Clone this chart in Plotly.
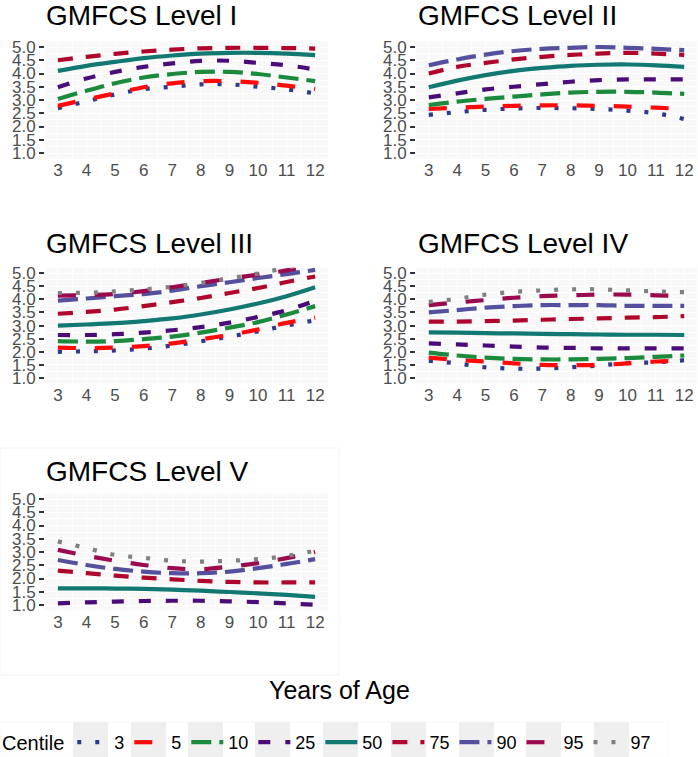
import plotly.graph_objects as go

W, H = 698, 757

ages = [3, 4, 5, 6, 7, 8, 9, 10, 11, 12]
centiles = ["3", "5", "10", "25", "50", "75", "90", "95", "97"]
level_titles = ["GMFCS Level I", "GMFCS Level II", "GMFCS Level III", "GMFCS Level IV", "GMFCS Level V"]
y_tick_vals = [1.0, 1.5, 2.0, 2.5, 3.0, 3.5, 4.0, 4.5, 5.0]
y_tick_text = ["1.0", "1.5", "2.0", "2.5", "3.0", "3.5", "4.0", "4.5", "5.0"]

# Level I
lvl1_c3 = [2.69, 2.95, 3.21, 3.41, 3.50, 3.59, 3.59, 3.50, 3.40, 3.25]
lvl1_c5 = [2.78, 3.02, 3.25, 3.48, 3.63, 3.71, 3.71, 3.65, 3.54, 3.42]
lvl1_c10 = [3.04, 3.35, 3.63, 3.85, 3.98, 4.06, 4.06, 3.98, 3.85, 3.71]
lvl1_c25 = [3.48, 3.81, 4.06, 4.25, 4.38, 4.48, 4.48, 4.40, 4.31, 4.15]
lvl1_c50 = [4.10, 4.29, 4.44, 4.58, 4.68, 4.75, 4.78, 4.78, 4.75, 4.69]
lvl1_c75 = [4.50, 4.63, 4.74, 4.83, 4.90, 4.95, 4.97, 4.97, 4.96, 4.94]
lvl1_c90 = [None] * 10
lvl1_c95 = [None] * 10
lvl1_c97 = [None] * 10

# Level II
lvl2_c3 = [2.44, 2.54, 2.63, 2.68, 2.70, 2.69, 2.66, 2.60, 2.50, 2.28]
lvl2_c5 = [2.66, 2.71, 2.75, 2.78, 2.80, 2.80, 2.78, 2.75, 2.71, 2.66]
lvl2_c10 = [2.81, 2.94, 3.04, 3.13, 3.21, 3.28, 3.31, 3.31, 3.28, 3.23]
lvl2_c25 = [3.10, 3.25, 3.40, 3.50, 3.60, 3.69, 3.75, 3.78, 3.78, 3.78]
lvl2_c50 = [3.48, 3.73, 3.94, 4.10, 4.21, 4.29, 4.33, 4.34, 4.31, 4.25]
lvl2_c75 = [4.00, 4.25, 4.40, 4.53, 4.63, 4.70, 4.75, 4.78, 4.75, 4.70]
lvl2_c90 = [4.31, 4.53, 4.71, 4.85, 4.93, 4.97, 5.00, 4.97, 4.93, 4.88]
lvl2_c95 = [None] * 10
lvl2_c97 = [None] * 10

# Level III
lvl3_c3 = [2.00, 2.02, 2.05, 2.12, 2.24, 2.40, 2.58, 2.78, 3.00, 3.20]
lvl3_c5 = [2.16, 2.14, 2.16, 2.22, 2.32, 2.48, 2.64, 2.85, 3.10, 3.30]
lvl3_c10 = [2.41, 2.39, 2.41, 2.48, 2.58, 2.73, 2.92, 3.13, 3.42, 3.74]
lvl3_c25 = [2.64, 2.64, 2.67, 2.73, 2.82, 2.94, 3.11, 3.33, 3.58, 3.95]
lvl3_c50 = [3.00, 3.04, 3.09, 3.17, 3.27, 3.42, 3.61, 3.84, 4.12, 4.46]
lvl3_c75 = [3.45, 3.52, 3.61, 3.74, 3.89, 4.05, 4.24, 4.43, 4.66, 4.87]
lvl3_c90 = [3.95, 4.03, 4.12, 4.20, 4.33, 4.50, 4.65, 4.81, 4.96, 5.12]
lvl3_c95 = [4.14, 4.16, 4.20, 4.31, 4.46, 4.62, 4.79, 4.94, 5.10, 5.30]
lvl3_c97 = [4.24, 4.25, 4.30, 4.38, 4.48, 4.62, 4.80, 4.98, 5.20, 5.40]

# Level IV
lvl4_c3 = [1.66, 1.56, 1.41, 1.36, 1.36, 1.41, 1.48, 1.57, 1.60, 1.68]
lvl4_c5 = [1.78, 1.69, 1.63, 1.56, 1.50, 1.49, 1.50, 1.56, 1.63, 1.66]
lvl4_c10 = [1.97, 1.86, 1.78, 1.73, 1.71, 1.71, 1.73, 1.76, 1.81, 1.86]
lvl4_c25 = [2.32, 2.28, 2.24, 2.20, 2.16, 2.15, 2.13, 2.13, 2.13, 2.13]
lvl4_c50 = [2.74, 2.73, 2.71, 2.70, 2.68, 2.67, 2.66, 2.65, 2.65, 2.64]
lvl4_c75 = [3.15, 3.15, 3.17, 3.19, 3.22, 3.25, 3.27, 3.30, 3.32, 3.36]
lvl4_c90 = [3.50, 3.59, 3.68, 3.74, 3.78, 3.78, 3.78, 3.75, 3.75, 3.75]
lvl4_c95 = [3.78, 3.88, 3.97, 4.06, 4.12, 4.15, 4.18, 4.18, 4.15, 4.13]
lvl4_c97 = [3.90, 4.02, 4.18, 4.28, 4.34, 4.38, 4.38, 4.34, 4.30, 4.27]

# Level V
lvl5_c3 = [None] * 10
lvl5_c5 = [None] * 10
lvl5_c10 = [None] * 10
lvl5_c25 = [1.06, 1.10, 1.13, 1.15, 1.16, 1.16, 1.14, 1.11, 1.06, 1.01]
lvl5_c50 = [1.63, 1.63, 1.62, 1.61, 1.58, 1.54, 1.49, 1.44, 1.38, 1.31]
lvl5_c75 = [2.30, 2.20, 2.11, 2.03, 1.97, 1.91, 1.87, 1.85, 1.85, 1.85]
lvl5_c90 = [2.70, 2.51, 2.36, 2.26, 2.20, 2.20, 2.26, 2.39, 2.55, 2.73]
lvl5_c95 = [3.08, 2.86, 2.67, 2.51, 2.39, 2.35, 2.45, 2.58, 2.77, 3.00]
lvl5_c97 = [3.40, 3.15, 2.89, 2.78, 2.67, 2.64, 2.67, 2.73, 2.85, 3.05]

levels = [
    [lvl1_c3, lvl1_c5, lvl1_c10, lvl1_c25, lvl1_c50, lvl1_c75, lvl1_c90, lvl1_c95, lvl1_c97],
    [lvl2_c3, lvl2_c5, lvl2_c10, lvl2_c25, lvl2_c50, lvl2_c75, lvl2_c90, lvl2_c95, lvl2_c97],
    [lvl3_c3, lvl3_c5, lvl3_c10, lvl3_c25, lvl3_c50, lvl3_c75, lvl3_c90, lvl3_c95, lvl3_c97],
    [lvl4_c3, lvl4_c5, lvl4_c10, lvl4_c25, lvl4_c50, lvl4_c75, lvl4_c90, lvl4_c95, lvl4_c97],
    [lvl5_c3, lvl5_c5, lvl5_c10, lvl5_c25, lvl5_c50, lvl5_c75, lvl5_c90, lvl5_c95, lvl5_c97],
]

colors = ["#2e3a8c", "#ff0a0a", "#1b8a3c", "#4b0c7a", "#127872",
          "#b1062c", "#55509e", "#9b0a4e", "#808080"]
dashes = ["4px,14px", "18px,19px", "20px,8px", "12px,15px", "solid",
          "15px,13px", "20px,8px", "18px,19px", "4px,14px"]

# panel geometry in pixels: (x0, x1, ytop, ybottom)
panels = [
    (45, 328, 41.7, 158.3),
    (416, 697, 41.7, 158.3),
    (45, 328, 267.8, 383.3),
    (416, 697, 267.8, 383.3),
    (45, 328, 493.7, 610.3),
]
title_pos = [(44, 16), (416, 16), (44, 244), (416, 244), (44, 471)]
# legend key background boxes (pixels): x0 positions, width
key_x0 = [73, 131, 188, 255, 323, 391, 459, 526, 594]
key_w = 35

FONT = "Liberation Sans, Arial, sans-serif"

fig = go.Figure()

for ci, cname in enumerate(centiles):
    shown = False
    for pi in range(5):
        vals = levels[pi][ci]
        if all(v is None for v in vals):
            continue
        suffix = "" if pi == 0 else str(pi + 1)
        fig.add_trace(go.Scatter(
            x=ages, y=vals, mode="lines",
            name=cname, legendgroup=cname, showlegend=not shown,
            line=dict(color=colors[ci], width=4.2, dash=dashes[ci], shape="spline"),
            xaxis="x" + suffix, yaxis="y" + suffix, hoverinfo="skip",
        ))
        shown = True

layout = dict(
    width=W, height=H,
    margin=dict(l=0, r=0, t=0, b=0, autoexpand=False),
    paper_bgcolor="white",
    plot_bgcolor="#f8f8f8",
    font=dict(family=FONT, color="#000"),
    showlegend=True,
    legend=dict(
        orientation="h", x=0, xanchor="left",
        y=1 - 724 / H, yanchor="top",
        font=dict(size=18, family=FONT, color="#000"),
        title=dict(text="Centile", font=dict(size=20, family=FONT)),
        itemwidth=32, bgcolor="rgba(0,0,0,0)",
        tracegroupgap=0,
    ),
)

annotations = []
for pi, (x0, x1, yt, yb) in enumerate(panels):
    suffix = "" if pi == 0 else str(pi + 1)
    layout["xaxis" + suffix] = dict(
        domain=[x0 / W, x1 / W], anchor="y" + suffix,
        range=[2.55, 12.45], tickvals=ages, ticktext=[str(a) for a in ages],
        ticks="",
        tickfont=dict(size=17, color="#4d4d4d", family=FONT),
        showgrid=True, gridcolor="white", gridwidth=1.2,
        minor=dict(dtick=0.5, showgrid=True, gridcolor="white", gridwidth=0.6),
        zeroline=False, showline=False, fixedrange=True,
    )
    layout["yaxis" + suffix] = dict(
        domain=[1 - yb / H, 1 - yt / H], anchor="x" + suffix,
        range=[0.8, 5.2], tickvals=y_tick_vals, ticktext=y_tick_text,
        ticks="outside", ticklen=5, tickwidth=1.5, tickcolor="#333333",
        tickfont=dict(size=17, color="#4d4d4d", family=FONT),
        showgrid=True, gridcolor="white", gridwidth=1.2,
        minor=dict(dtick=0.25, showgrid=True, gridcolor="white", gridwidth=0.6),
        zeroline=False, showline=False, fixedrange=True,
    )
    tx, ty = title_pos[pi]
    annotations.append(dict(
        text=level_titles[pi], x=tx / W, y=1 - ty / H, xref="paper", yref="paper",
        xanchor="left", yanchor="middle", showarrow=False,
        font=dict(size=28, family=FONT, color="#000"),
    ))

annotations.append(dict(
    text="Years of Age", x=339 / W, y=1 - 690 / H, xref="paper", yref="paper",
    xanchor="center", yanchor="middle", showarrow=False,
    font=dict(size=25, family=FONT, color="#000"),
))
layout["annotations"] = annotations

shapes = [
    dict(type="rect", xref="paper", yref="paper",
         x0=0, x1=339 / W, y0=1 - 675 / H, y1=1 - 448 / H,
         line=dict(color="#f3f3f3", width=1), fillcolor="rgba(0,0,0,0)", layer="below"),
    dict(type="rect", xref="paper", yref="paper",
         x0=0, x1=668 / W, y0=0, y1=1 - 722 / H,
         line=dict(color="#f9f9f9", width=1), fillcolor="rgba(0,0,0,0)", layer="below"),
]
for kx in key_x0:
    shapes.append(dict(
        type="rect", xref="paper", yref="paper",
        x0=kx / W, x1=(kx + key_w) / W, y0=0, y1=1 - 722 / H,
        line=dict(width=0), fillcolor="#efefef", layer="below",
    ))
layout["shapes"] = shapes

fig.update_layout(**layout)
fig.write_html("out.html")
